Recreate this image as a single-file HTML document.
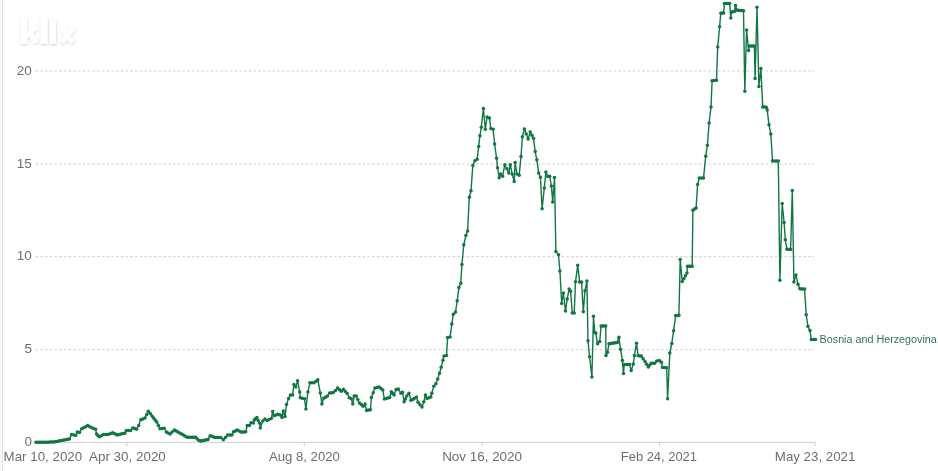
<!DOCTYPE html>
<html><head><meta charset="utf-8"><title>chart</title>
<style>
html,body{margin:0;padding:0;background:#fff;}
body{width:938px;height:471px;overflow:hidden;position:relative;font-family:"Liberation Sans",sans-serif;}
svg{position:absolute;left:0;top:0;}
.lb{position:absolute;left:0;top:0;width:2px;height:471px;background:#fafafa;}
.lb2{position:absolute;left:2px;top:0;width:1px;height:471px;background:#e1e1e1;}
text{font-family:"Liberation Sans",sans-serif;}
.ax{font-size:13px;fill:#6e6e6e;}
</style></head><body>
<div class="lb"></div><div class="lb2"></div>
<svg style="will-change:transform" width="938" height="471" viewBox="0 0 938 471">
<defs><filter id="ls" x="-20%" y="-20%" width="140%" height="150%"><feDropShadow dx="0.3" dy="0.9" stdDeviation="0.9" flood-color="#000" flood-opacity="0.2"/></filter></defs>
<g filter="url(#ls)" stroke="#fff" fill="none" stroke-linecap="butt">
<line x1="23.9" y1="17" x2="23.9" y2="44" stroke-width="6.4"/>
<line x1="25.5" y1="37" x2="35.6" y2="27.2" stroke-width="5.2"/>
<line x1="29.5" y1="33" x2="36.2" y2="43" stroke-width="5.2"/>
<line x1="44.1" y1="17" x2="44.1" y2="44" stroke-width="6.8"/>
<line x1="52.6" y1="20.5" x2="52.6" y2="44" stroke-width="6.8"/>
<line x1="61.6" y1="28.3" x2="72.9" y2="42.6" stroke-width="5.2"/>
<line x1="72.9" y1="28.3" x2="61.6" y2="42.6" stroke-width="5.2"/>
</g>
<g stroke="#cecece" stroke-width="1" stroke-dasharray="2.5,2.24" fill="none"><line x1="35.5" x2="814" y1="349.7" y2="349.7"/><line x1="35.5" x2="814" y1="256.7" y2="256.7"/><line x1="35.5" x2="814" y1="164.1" y2="164.1"/><line x1="35.5" x2="814" y1="71.0" y2="71.0"/></g>
<line x1="36" x2="815.5" y1="442.3" y2="442.3" stroke="#cfcfcf" stroke-width="1"/>
<g stroke="#cfcfcf" stroke-width="1"><line x1="126.9" x2="126.9" y1="442.3" y2="446.3"/><line x1="304.3" x2="304.3" y1="442.3" y2="446.3"/><line x1="482.1" x2="482.1" y1="442.3" y2="446.3"/><line x1="659.5" x2="659.5" y1="442.3" y2="446.3"/><line x1="815.1" x2="815.1" y1="442.3" y2="446.3"/></g>
<g class="ax" text-anchor="end" style="font-size:13.5px">
<text x="31.9" y="446.0">0</text>
<text x="31.9" y="353.4">5</text>
<text x="31.9" y="260.4">10</text>
<text x="31.9" y="167.79999999999998">15</text>
<text x="31.9" y="74.7">20</text>
</g>
<g class="ax">
<text x="3.6" y="460.5" textLength="78.6" lengthAdjust="spacingAndGlyphs">Mar 10, 2020</text>
<text x="89" y="460.5" textLength="76.8" lengthAdjust="spacingAndGlyphs">Apr 30, 2020</text>
<text x="268.9" y="460.5" textLength="71" lengthAdjust="spacingAndGlyphs">Aug 8, 2020</text>
<text x="442.2" y="460.5" textLength="79.8" lengthAdjust="spacingAndGlyphs">Nov 16, 2020</text>
<text x="620.8" y="460.5" textLength="76.2" lengthAdjust="spacingAndGlyphs">Feb 24, 2021</text>
<text x="774.8" y="460.5" textLength="80.6" lengthAdjust="spacingAndGlyphs">May 23, 2021</text>
</g>
<polyline points="36.0,442.3 53.5,442.1 62.0,440.5 69.4,438.9 71.6,434.6 75.8,435.2 77.4,432.0 79.5,432.5 81.7,428.8 87.6,425.6 91.3,427.5 95.6,429.3 96.6,434.1 99.3,436.8 103.6,434.6 108.9,434.3 112.6,432.8 117.4,435.0 121.0,434.0 124.8,433.3 126.4,430.4 130.7,430.4 132.8,427.9 136.5,429.3 138.7,425.6 140.8,419.7 145.0,418.1 148.3,411.2 152.0,416.0 156.8,421.9 160.0,428.8 164.2,428.3 166.4,432.0 170.1,434.1 174.4,429.9 179.7,433.0 187.2,437.3 195.7,437.3 198.9,440.5 201.6,441.0 208.0,439.4 210.1,435.7 215.3,437.6 220.7,437.6 223.3,439.8 227.6,435.0 231.9,435.0 233.5,431.8 237.2,430.0 240.9,432.1 245.7,431.8 247.3,425.4 249.4,425.4 251.0,422.7 253.2,422.9 254.2,420.0 256.9,417.6 259.6,423.3 260.3,428.0 262.8,421.1 264.9,419.0 267.0,420.6 271.3,418.5 272.7,411.5 274.0,415.8 277.7,414.2 280.9,415.3 282.0,417.4 283.3,411.0 285.0,416.6 286.5,404.4 288.6,398.5 290.4,395.1 292.6,395.1 293.9,384.4 295.8,387.1 297.6,380.7 299.7,391.9 300.3,397.7 304.5,398.8 305.9,408.9 307.9,391.9 309.9,382.8 314.1,382.8 317.8,379.8 320.3,392.9 321.9,404.1 323.7,398.3 327.4,396.1 329.6,392.9 333.3,392.6 337.6,388.1 341.3,391.3 343.4,389.2 347.2,393.5 349.3,397.7 351.3,398.8 352.8,404.1 354.2,396.1 356.2,396.1 359.4,403.0 363.2,406.2 365.1,404.1 366.6,410.5 370.4,409.7 371.4,397.5 373.2,392.8 374.9,388.1 379.1,386.9 382.8,390.1 384.4,399.1 389.7,397.5 391.3,391.7 394.0,394.9 396.1,389.5 398.3,389.0 400.9,393.3 402.5,392.2 404.1,401.8 406.8,395.9 408.9,393.3 411.0,400.2 414.2,398.6 416.4,397.0 418.0,402.3 422.0,407.1 423.8,401.8 425.4,394.9 427.0,398.6 430.8,397.0 431.8,393.3 433.8,386.3 435.9,383.7 437.7,378.9 439.5,373.3 441.2,367.2 442.9,360.2 444.0,356.0 446.5,355.6 447.6,337.5 450.1,337.1 451.8,324.1 453.3,314.2 455.5,312.0 457.2,300.8 458.9,287.4 460.8,283.2 461.9,264.5 463.8,244.7 465.9,235.4 467.6,231.1 469.3,197.2 471.0,190.8 472.8,165.6 474.9,160.8 477.1,159.2 478.7,146.4 479.9,135.7 481.3,127.3 483.4,108.5 485.3,129.3 487.1,117.0 489.4,118.0 490.8,128.4 493.1,129.2 494.6,144.0 496.6,158.3 497.5,167.7 499.2,177.8 500.5,174.1 502.6,176.2 504.8,164.7 506.9,168.8 508.8,173.0 510.3,164.7 512.2,174.1 514.2,181.6 515.1,162.4 517.0,174.1 519.2,175.2 521.0,156.5 522.4,136.7 524.4,128.9 528.1,139.0 530.2,132.0 533.5,138.3 535.2,151.6 536.8,159.7 538.7,173.0 540.4,177.3 542.1,208.7 544.3,188.0 545.9,172.1 547.8,176.6 549.7,176.3 551.4,186.1 552.7,202.0 554.5,177.5 555.9,251.4 558.5,254.8 559.9,270.9 561.7,303.5 563.4,293.0 565.5,311.0 567.2,299.0 569.1,289.1 570.6,291.3 572.3,313.0 574.2,313.0 575.5,281.8 577.7,265.3 579.6,281.9 581.6,281.9 583.3,311.7 585.0,290.7 586.9,281.1 588.0,340.7 589.6,356.7 591.9,376.9 593.5,316.3 594.7,332.5 595.8,332.9 597.5,343.8 599.7,341.6 601.1,325.9 605.7,325.9 606.0,355.6 607.5,352.2 609.0,343.8 617.3,342.6 618.9,337.2 620.5,349.2 622.4,360.4 623.5,373.5 624.2,364.6 629.6,364.6 631.2,370.5 633.3,364.1 634.4,355.6 636.5,343.3 638.1,355.6 641.3,356.1 645.0,361.4 648.3,367.0 651.3,363.2 654.6,363.3 656.8,360.9 659.3,360.6 661.4,362.3 662.5,367.5 666.7,367.7 667.6,398.7 669.8,353.0 671.8,343.5 673.6,330.7 675.7,315.5 678.9,315.3 680.2,259.5 682.2,281.6 687.0,272.9 687.5,266.3 692.2,266.3 692.9,210.2 696.1,208.0 697.6,184.5 699.3,178.1 703.5,178.1 705.7,156.3 707.4,145.2 709.1,122.9 711.0,107.0 712.1,80.7 716.5,80.3 717.7,47.1 719.6,26.8 720.8,13.2 723.6,13.0 724.4,3.6 729.7,3.6 730.8,17.9 731.4,11.9 734.4,11.5 735.5,5.5 736.7,10.1 743.5,10.7 744.8,91.2 746.6,30.1 748.6,50.5 749.3,46.1 754.4,46.1 755.1,78.4 757.0,7.2 758.9,86.4 760.9,68.4 762.7,106.9 766.3,107.2 767.2,109.9 769.0,124.8 770.8,134.0 772.5,160.9 778.3,160.9 779.9,280.2 782.2,203.5 784.1,222.5 785.3,239.8 786.9,249.2 790.6,249.4 792.3,190.5 793.9,281.9 795.9,275.1 798.0,284.2 799.9,288.8 804.6,289.0 806.2,314.8 807.9,326.2 810.0,330.6 811.3,339.4 815.5,339.4" fill="none" stroke="#127643" stroke-width="1.4" stroke-linejoin="round" stroke-linecap="round"/>
<g fill="#127643"><circle cx="36.0" cy="442.3" r="1.75"/><circle cx="37.8" cy="442.3" r="1.75"/><circle cx="39.5" cy="442.3" r="1.75"/><circle cx="41.2" cy="442.2" r="1.75"/><circle cx="43.0" cy="442.2" r="1.75"/><circle cx="44.8" cy="442.2" r="1.75"/><circle cx="46.5" cy="442.2" r="1.75"/><circle cx="48.2" cy="442.2" r="1.75"/><circle cx="50.0" cy="442.1" r="1.75"/><circle cx="51.8" cy="442.1" r="1.75"/><circle cx="53.5" cy="442.1" r="1.75"/><circle cx="55.2" cy="441.8" r="1.75"/><circle cx="56.9" cy="441.5" r="1.75"/><circle cx="58.6" cy="441.1" r="1.75"/><circle cx="60.3" cy="440.8" r="1.75"/><circle cx="62.0" cy="440.5" r="1.75"/><circle cx="63.9" cy="440.1" r="1.75"/><circle cx="65.7" cy="439.7" r="1.75"/><circle cx="67.6" cy="439.3" r="1.75"/><circle cx="69.4" cy="438.9" r="1.75"/><circle cx="71.6" cy="434.6" r="1.75"/><circle cx="73.7" cy="434.9" r="1.75"/><circle cx="75.8" cy="435.2" r="1.75"/><circle cx="77.4" cy="432.0" r="1.75"/><circle cx="79.5" cy="432.5" r="1.75"/><circle cx="81.7" cy="428.8" r="1.75"/><circle cx="83.7" cy="427.7" r="1.75"/><circle cx="85.6" cy="426.7" r="1.75"/><circle cx="87.6" cy="425.6" r="1.75"/><circle cx="89.4" cy="426.6" r="1.75"/><circle cx="91.3" cy="427.5" r="1.75"/><circle cx="93.4" cy="428.4" r="1.75"/><circle cx="95.6" cy="429.3" r="1.75"/><circle cx="96.6" cy="434.1" r="1.75"/><circle cx="97.9" cy="435.5" r="1.75"/><circle cx="99.3" cy="436.8" r="1.75"/><circle cx="101.4" cy="435.7" r="1.75"/><circle cx="103.6" cy="434.6" r="1.75"/><circle cx="105.4" cy="434.5" r="1.75"/><circle cx="107.1" cy="434.4" r="1.75"/><circle cx="108.9" cy="434.3" r="1.75"/><circle cx="110.8" cy="433.6" r="1.75"/><circle cx="112.6" cy="432.8" r="1.75"/><circle cx="114.2" cy="433.5" r="1.75"/><circle cx="115.8" cy="434.3" r="1.75"/><circle cx="117.4" cy="435.0" r="1.75"/><circle cx="119.2" cy="434.5" r="1.75"/><circle cx="121.0" cy="434.0" r="1.75"/><circle cx="122.9" cy="433.6" r="1.75"/><circle cx="124.8" cy="433.3" r="1.75"/><circle cx="126.4" cy="430.4" r="1.75"/><circle cx="128.6" cy="430.4" r="1.75"/><circle cx="130.7" cy="430.4" r="1.75"/><circle cx="132.8" cy="427.9" r="1.75"/><circle cx="134.7" cy="428.6" r="1.75"/><circle cx="136.5" cy="429.3" r="1.75"/><circle cx="138.7" cy="425.6" r="1.75"/><circle cx="140.8" cy="419.7" r="1.75"/><circle cx="142.9" cy="418.9" r="1.75"/><circle cx="145.0" cy="418.1" r="1.75"/><circle cx="146.7" cy="414.6" r="1.75"/><circle cx="148.3" cy="411.2" r="1.75"/><circle cx="150.2" cy="413.6" r="1.75"/><circle cx="152.0" cy="416.0" r="1.75"/><circle cx="153.6" cy="418.0" r="1.75"/><circle cx="155.2" cy="419.9" r="1.75"/><circle cx="156.8" cy="421.9" r="1.75"/><circle cx="158.4" cy="425.4" r="1.75"/><circle cx="160.0" cy="428.8" r="1.75"/><circle cx="162.1" cy="428.6" r="1.75"/><circle cx="164.2" cy="428.3" r="1.75"/><circle cx="166.4" cy="432.0" r="1.75"/><circle cx="168.2" cy="433.1" r="1.75"/><circle cx="170.1" cy="434.1" r="1.75"/><circle cx="172.2" cy="432.0" r="1.75"/><circle cx="174.4" cy="429.9" r="1.75"/><circle cx="176.2" cy="430.9" r="1.75"/><circle cx="177.9" cy="432.0" r="1.75"/><circle cx="179.7" cy="433.0" r="1.75"/><circle cx="181.6" cy="434.1" r="1.75"/><circle cx="183.4" cy="435.1" r="1.75"/><circle cx="185.3" cy="436.2" r="1.75"/><circle cx="187.2" cy="437.3" r="1.75"/><circle cx="188.9" cy="437.3" r="1.75"/><circle cx="190.6" cy="437.3" r="1.75"/><circle cx="192.3" cy="437.3" r="1.75"/><circle cx="194.0" cy="437.3" r="1.75"/><circle cx="195.7" cy="437.3" r="1.75"/><circle cx="197.3" cy="438.9" r="1.75"/><circle cx="198.9" cy="440.5" r="1.75"/><circle cx="200.2" cy="440.8" r="1.75"/><circle cx="201.6" cy="441.0" r="1.75"/><circle cx="203.2" cy="440.6" r="1.75"/><circle cx="204.8" cy="440.2" r="1.75"/><circle cx="206.4" cy="439.8" r="1.75"/><circle cx="208.0" cy="439.4" r="1.75"/><circle cx="210.1" cy="435.7" r="1.75"/><circle cx="211.8" cy="436.3" r="1.75"/><circle cx="213.6" cy="437.0" r="1.75"/><circle cx="215.3" cy="437.6" r="1.75"/><circle cx="217.1" cy="437.6" r="1.75"/><circle cx="218.9" cy="437.6" r="1.75"/><circle cx="220.7" cy="437.6" r="1.75"/><circle cx="223.3" cy="439.8" r="1.75"/><circle cx="225.4" cy="437.4" r="1.75"/><circle cx="227.6" cy="435.0" r="1.75"/><circle cx="229.8" cy="435.0" r="1.75"/><circle cx="231.9" cy="435.0" r="1.75"/><circle cx="233.5" cy="431.8" r="1.75"/><circle cx="235.3" cy="430.9" r="1.75"/><circle cx="237.2" cy="430.0" r="1.75"/><circle cx="239.1" cy="431.1" r="1.75"/><circle cx="240.9" cy="432.1" r="1.75"/><circle cx="242.5" cy="432.0" r="1.75"/><circle cx="244.1" cy="431.9" r="1.75"/><circle cx="245.7" cy="431.8" r="1.75"/><circle cx="247.3" cy="425.4" r="1.75"/><circle cx="249.4" cy="425.4" r="1.75"/><circle cx="251.0" cy="422.7" r="1.75"/><circle cx="253.2" cy="422.9" r="1.75"/><circle cx="254.2" cy="420.0" r="1.75"/><circle cx="255.5" cy="418.8" r="1.75"/><circle cx="256.9" cy="417.6" r="1.75"/><circle cx="258.2" cy="420.5" r="1.75"/><circle cx="259.6" cy="423.3" r="1.75"/><circle cx="260.3" cy="428.0" r="1.75"/><circle cx="262.8" cy="421.1" r="1.75"/><circle cx="264.9" cy="419.0" r="1.75"/><circle cx="267.0" cy="420.6" r="1.75"/><circle cx="269.1" cy="419.6" r="1.75"/><circle cx="271.3" cy="418.5" r="1.75"/><circle cx="272.7" cy="411.5" r="1.75"/><circle cx="274.0" cy="415.8" r="1.75"/><circle cx="275.9" cy="415.0" r="1.75"/><circle cx="277.7" cy="414.2" r="1.75"/><circle cx="279.3" cy="414.8" r="1.75"/><circle cx="280.9" cy="415.3" r="1.75"/><circle cx="282.0" cy="417.4" r="1.75"/><circle cx="283.3" cy="411.0" r="1.75"/><circle cx="285.0" cy="416.6" r="1.75"/><circle cx="286.5" cy="404.4" r="1.75"/><circle cx="288.6" cy="398.5" r="1.75"/><circle cx="290.4" cy="395.1" r="1.75"/><circle cx="292.6" cy="395.1" r="1.75"/><circle cx="293.9" cy="384.4" r="1.75"/><circle cx="295.8" cy="387.1" r="1.75"/><circle cx="297.6" cy="380.7" r="1.75"/><circle cx="299.7" cy="391.9" r="1.75"/><circle cx="300.3" cy="397.7" r="1.75"/><circle cx="302.4" cy="398.2" r="1.75"/><circle cx="304.5" cy="398.8" r="1.75"/><circle cx="305.9" cy="408.9" r="1.75"/><circle cx="307.9" cy="391.9" r="1.75"/><circle cx="309.9" cy="382.8" r="1.75"/><circle cx="312.0" cy="382.8" r="1.75"/><circle cx="314.1" cy="382.8" r="1.75"/><circle cx="316.0" cy="381.3" r="1.75"/><circle cx="317.8" cy="379.8" r="1.75"/><circle cx="320.3" cy="392.9" r="1.75"/><circle cx="321.9" cy="404.1" r="1.75"/><circle cx="323.7" cy="398.3" r="1.75"/><circle cx="325.5" cy="397.2" r="1.75"/><circle cx="327.4" cy="396.1" r="1.75"/><circle cx="329.6" cy="392.9" r="1.75"/><circle cx="331.5" cy="392.8" r="1.75"/><circle cx="333.3" cy="392.6" r="1.75"/><circle cx="335.5" cy="390.4" r="1.75"/><circle cx="337.6" cy="388.1" r="1.75"/><circle cx="339.5" cy="389.7" r="1.75"/><circle cx="341.3" cy="391.3" r="1.75"/><circle cx="343.4" cy="389.2" r="1.75"/><circle cx="345.3" cy="391.4" r="1.75"/><circle cx="347.2" cy="393.5" r="1.75"/><circle cx="349.3" cy="397.7" r="1.75"/><circle cx="351.3" cy="398.8" r="1.75"/><circle cx="352.8" cy="404.1" r="1.75"/><circle cx="354.2" cy="396.1" r="1.75"/><circle cx="356.2" cy="396.1" r="1.75"/><circle cx="357.8" cy="399.6" r="1.75"/><circle cx="359.4" cy="403.0" r="1.75"/><circle cx="361.3" cy="404.6" r="1.75"/><circle cx="363.2" cy="406.2" r="1.75"/><circle cx="365.1" cy="404.1" r="1.75"/><circle cx="366.6" cy="410.5" r="1.75"/><circle cx="368.5" cy="410.1" r="1.75"/><circle cx="370.4" cy="409.7" r="1.75"/><circle cx="371.4" cy="397.5" r="1.75"/><circle cx="373.2" cy="392.8" r="1.75"/><circle cx="374.9" cy="388.1" r="1.75"/><circle cx="377.0" cy="387.5" r="1.75"/><circle cx="379.1" cy="386.9" r="1.75"/><circle cx="381.0" cy="388.5" r="1.75"/><circle cx="382.8" cy="390.1" r="1.75"/><circle cx="384.4" cy="399.1" r="1.75"/><circle cx="386.2" cy="398.6" r="1.75"/><circle cx="387.9" cy="398.0" r="1.75"/><circle cx="389.7" cy="397.5" r="1.75"/><circle cx="391.3" cy="391.7" r="1.75"/><circle cx="392.6" cy="393.3" r="1.75"/><circle cx="394.0" cy="394.9" r="1.75"/><circle cx="396.1" cy="389.5" r="1.75"/><circle cx="398.3" cy="389.0" r="1.75"/><circle cx="400.9" cy="393.3" r="1.75"/><circle cx="402.5" cy="392.2" r="1.75"/><circle cx="404.1" cy="401.8" r="1.75"/><circle cx="405.5" cy="398.9" r="1.75"/><circle cx="406.8" cy="395.9" r="1.75"/><circle cx="408.9" cy="393.3" r="1.75"/><circle cx="411.0" cy="400.2" r="1.75"/><circle cx="412.6" cy="399.4" r="1.75"/><circle cx="414.2" cy="398.6" r="1.75"/><circle cx="416.4" cy="397.0" r="1.75"/><circle cx="418.0" cy="402.3" r="1.75"/><circle cx="420.0" cy="404.7" r="1.75"/><circle cx="422.0" cy="407.1" r="1.75"/><circle cx="423.8" cy="401.8" r="1.75"/><circle cx="425.4" cy="394.9" r="1.75"/><circle cx="427.0" cy="398.6" r="1.75"/><circle cx="428.9" cy="397.8" r="1.75"/><circle cx="430.8" cy="397.0" r="1.75"/><circle cx="431.8" cy="393.3" r="1.75"/><circle cx="433.8" cy="386.3" r="1.75"/><circle cx="435.9" cy="383.7" r="1.75"/><circle cx="437.7" cy="378.9" r="1.75"/><circle cx="439.5" cy="373.3" r="1.75"/><circle cx="441.2" cy="367.2" r="1.75"/><circle cx="442.9" cy="360.2" r="1.75"/><circle cx="444.0" cy="356.0" r="1.75"/><circle cx="446.5" cy="355.6" r="1.75"/><circle cx="447.6" cy="337.5" r="1.75"/><circle cx="450.1" cy="337.1" r="1.75"/><circle cx="451.8" cy="324.1" r="1.75"/><circle cx="453.3" cy="314.2" r="1.75"/><circle cx="455.5" cy="312.0" r="1.75"/><circle cx="457.2" cy="300.8" r="1.75"/><circle cx="458.9" cy="287.4" r="1.75"/><circle cx="460.8" cy="283.2" r="1.75"/><circle cx="461.9" cy="264.5" r="1.75"/><circle cx="463.8" cy="244.7" r="1.75"/><circle cx="465.9" cy="235.4" r="1.75"/><circle cx="467.6" cy="231.1" r="1.75"/><circle cx="469.3" cy="197.2" r="1.75"/><circle cx="471.0" cy="190.8" r="1.75"/><circle cx="472.8" cy="165.6" r="1.75"/><circle cx="474.9" cy="160.8" r="1.75"/><circle cx="477.1" cy="159.2" r="1.75"/><circle cx="478.7" cy="146.4" r="1.75"/><circle cx="479.9" cy="135.7" r="1.75"/><circle cx="481.3" cy="127.3" r="1.75"/><circle cx="483.4" cy="108.5" r="1.75"/><circle cx="485.3" cy="129.3" r="1.75"/><circle cx="487.1" cy="117.0" r="1.75"/><circle cx="489.4" cy="118.0" r="1.75"/><circle cx="490.8" cy="128.4" r="1.75"/><circle cx="493.1" cy="129.2" r="1.75"/><circle cx="494.6" cy="144.0" r="1.75"/><circle cx="496.6" cy="158.3" r="1.75"/><circle cx="497.5" cy="167.7" r="1.75"/><circle cx="499.2" cy="177.8" r="1.75"/><circle cx="500.5" cy="174.1" r="1.75"/><circle cx="502.6" cy="176.2" r="1.75"/><circle cx="504.8" cy="164.7" r="1.75"/><circle cx="506.9" cy="168.8" r="1.75"/><circle cx="508.8" cy="173.0" r="1.75"/><circle cx="510.3" cy="164.7" r="1.75"/><circle cx="512.2" cy="174.1" r="1.75"/><circle cx="514.2" cy="181.6" r="1.75"/><circle cx="515.1" cy="162.4" r="1.75"/><circle cx="517.0" cy="174.1" r="1.75"/><circle cx="519.2" cy="175.2" r="1.75"/><circle cx="521.0" cy="156.5" r="1.75"/><circle cx="522.4" cy="136.7" r="1.75"/><circle cx="524.4" cy="128.9" r="1.75"/><circle cx="526.2" cy="133.9" r="1.75"/><circle cx="528.1" cy="139.0" r="1.75"/><circle cx="530.2" cy="132.0" r="1.75"/><circle cx="531.9" cy="135.2" r="1.75"/><circle cx="533.5" cy="138.3" r="1.75"/><circle cx="535.2" cy="151.6" r="1.75"/><circle cx="536.8" cy="159.7" r="1.75"/><circle cx="538.7" cy="173.0" r="1.75"/><circle cx="540.4" cy="177.3" r="1.75"/><circle cx="542.1" cy="208.7" r="1.75"/><circle cx="544.3" cy="188.0" r="1.75"/><circle cx="545.9" cy="172.1" r="1.75"/><circle cx="547.8" cy="176.6" r="1.75"/><circle cx="549.7" cy="176.3" r="1.75"/><circle cx="551.4" cy="186.1" r="1.75"/><circle cx="552.7" cy="202.0" r="1.75"/><circle cx="554.5" cy="177.5" r="1.75"/><circle cx="555.9" cy="251.4" r="1.75"/><circle cx="558.5" cy="254.8" r="1.75"/><circle cx="559.9" cy="270.9" r="1.75"/><circle cx="561.7" cy="303.5" r="1.75"/><circle cx="563.4" cy="293.0" r="1.75"/><circle cx="565.5" cy="311.0" r="1.75"/><circle cx="567.2" cy="299.0" r="1.75"/><circle cx="569.1" cy="289.1" r="1.75"/><circle cx="570.6" cy="291.3" r="1.75"/><circle cx="572.3" cy="313.0" r="1.75"/><circle cx="574.2" cy="313.0" r="1.75"/><circle cx="575.5" cy="281.8" r="1.75"/><circle cx="577.7" cy="265.3" r="1.75"/><circle cx="579.6" cy="281.9" r="1.75"/><circle cx="581.6" cy="281.9" r="1.75"/><circle cx="583.3" cy="311.7" r="1.75"/><circle cx="585.0" cy="290.7" r="1.75"/><circle cx="586.9" cy="281.1" r="1.75"/><circle cx="588.0" cy="340.7" r="1.75"/><circle cx="589.6" cy="356.7" r="1.75"/><circle cx="591.9" cy="376.9" r="1.75"/><circle cx="593.5" cy="316.3" r="1.75"/><circle cx="594.7" cy="332.5" r="1.75"/><circle cx="595.8" cy="332.9" r="1.75"/><circle cx="597.5" cy="343.8" r="1.75"/><circle cx="599.7" cy="341.6" r="1.75"/><circle cx="601.1" cy="325.9" r="1.75"/><circle cx="602.6" cy="325.9" r="1.75"/><circle cx="604.2" cy="325.9" r="1.75"/><circle cx="605.7" cy="325.9" r="1.75"/><circle cx="606.0" cy="355.6" r="1.75"/><circle cx="607.5" cy="352.2" r="1.75"/><circle cx="609.0" cy="343.8" r="1.75"/><circle cx="610.7" cy="343.6" r="1.75"/><circle cx="612.3" cy="343.3" r="1.75"/><circle cx="614.0" cy="343.1" r="1.75"/><circle cx="615.6" cy="342.8" r="1.75"/><circle cx="617.3" cy="342.6" r="1.75"/><circle cx="618.9" cy="337.2" r="1.75"/><circle cx="620.5" cy="349.2" r="1.75"/><circle cx="622.4" cy="360.4" r="1.75"/><circle cx="623.5" cy="373.5" r="1.75"/><circle cx="624.2" cy="364.6" r="1.75"/><circle cx="626.0" cy="364.6" r="1.75"/><circle cx="627.8" cy="364.6" r="1.75"/><circle cx="629.6" cy="364.6" r="1.75"/><circle cx="631.2" cy="370.5" r="1.75"/><circle cx="633.3" cy="364.1" r="1.75"/><circle cx="634.4" cy="355.6" r="1.75"/><circle cx="636.5" cy="343.3" r="1.75"/><circle cx="638.1" cy="355.6" r="1.75"/><circle cx="639.7" cy="355.9" r="1.75"/><circle cx="641.3" cy="356.1" r="1.75"/><circle cx="643.1" cy="358.8" r="1.75"/><circle cx="645.0" cy="361.4" r="1.75"/><circle cx="646.6" cy="364.2" r="1.75"/><circle cx="648.3" cy="367.0" r="1.75"/><circle cx="649.8" cy="365.1" r="1.75"/><circle cx="651.3" cy="363.2" r="1.75"/><circle cx="653.0" cy="363.2" r="1.75"/><circle cx="654.6" cy="363.3" r="1.75"/><circle cx="656.8" cy="360.9" r="1.75"/><circle cx="659.3" cy="360.6" r="1.75"/><circle cx="661.4" cy="362.3" r="1.75"/><circle cx="662.5" cy="367.5" r="1.75"/><circle cx="664.6" cy="367.6" r="1.75"/><circle cx="666.7" cy="367.7" r="1.75"/><circle cx="667.6" cy="398.7" r="1.75"/><circle cx="669.8" cy="353.0" r="1.75"/><circle cx="671.8" cy="343.5" r="1.75"/><circle cx="673.6" cy="330.7" r="1.75"/><circle cx="675.7" cy="315.5" r="1.75"/><circle cx="677.3" cy="315.4" r="1.75"/><circle cx="678.9" cy="315.3" r="1.75"/><circle cx="680.2" cy="259.5" r="1.75"/><circle cx="682.2" cy="281.6" r="1.75"/><circle cx="683.8" cy="278.7" r="1.75"/><circle cx="685.4" cy="275.8" r="1.75"/><circle cx="687.0" cy="272.9" r="1.75"/><circle cx="687.5" cy="266.3" r="1.75"/><circle cx="689.1" cy="266.3" r="1.75"/><circle cx="690.6" cy="266.3" r="1.75"/><circle cx="692.2" cy="266.3" r="1.75"/><circle cx="692.9" cy="210.2" r="1.75"/><circle cx="694.5" cy="209.1" r="1.75"/><circle cx="696.1" cy="208.0" r="1.75"/><circle cx="697.6" cy="184.5" r="1.75"/><circle cx="699.3" cy="178.1" r="1.75"/><circle cx="701.4" cy="178.1" r="1.75"/><circle cx="703.5" cy="178.1" r="1.75"/><circle cx="705.7" cy="156.3" r="1.75"/><circle cx="707.4" cy="145.2" r="1.75"/><circle cx="709.1" cy="122.9" r="1.75"/><circle cx="711.0" cy="107.0" r="1.75"/><circle cx="712.1" cy="80.7" r="1.75"/><circle cx="714.3" cy="80.5" r="1.75"/><circle cx="716.5" cy="80.3" r="1.75"/><circle cx="717.7" cy="47.1" r="1.75"/><circle cx="719.6" cy="26.8" r="1.75"/><circle cx="720.8" cy="13.2" r="1.75"/><circle cx="722.2" cy="13.1" r="1.75"/><circle cx="723.6" cy="13.0" r="1.75"/><circle cx="724.4" cy="3.6" r="1.75"/><circle cx="726.2" cy="3.6" r="1.75"/><circle cx="727.9" cy="3.6" r="1.75"/><circle cx="729.7" cy="3.6" r="1.75"/><circle cx="730.8" cy="17.9" r="1.75"/><circle cx="731.4" cy="11.9" r="1.75"/><circle cx="732.9" cy="11.7" r="1.75"/><circle cx="734.4" cy="11.5" r="1.75"/><circle cx="735.5" cy="5.5" r="1.75"/><circle cx="736.7" cy="10.1" r="1.75"/><circle cx="738.4" cy="10.2" r="1.75"/><circle cx="740.1" cy="10.4" r="1.75"/><circle cx="741.8" cy="10.5" r="1.75"/><circle cx="743.5" cy="10.7" r="1.75"/><circle cx="744.8" cy="91.2" r="1.75"/><circle cx="746.6" cy="30.1" r="1.75"/><circle cx="748.6" cy="50.5" r="1.75"/><circle cx="749.3" cy="46.1" r="1.75"/><circle cx="751.0" cy="46.1" r="1.75"/><circle cx="752.7" cy="46.1" r="1.75"/><circle cx="754.4" cy="46.1" r="1.75"/><circle cx="755.1" cy="78.4" r="1.75"/><circle cx="757.0" cy="7.2" r="1.75"/><circle cx="758.9" cy="86.4" r="1.75"/><circle cx="760.9" cy="68.4" r="1.75"/><circle cx="762.7" cy="106.9" r="1.75"/><circle cx="764.5" cy="107.1" r="1.75"/><circle cx="766.3" cy="107.2" r="1.75"/><circle cx="767.2" cy="109.9" r="1.75"/><circle cx="769.0" cy="124.8" r="1.75"/><circle cx="770.8" cy="134.0" r="1.75"/><circle cx="772.5" cy="160.9" r="1.75"/><circle cx="774.4" cy="160.9" r="1.75"/><circle cx="776.4" cy="160.9" r="1.75"/><circle cx="778.3" cy="160.9" r="1.75"/><circle cx="779.9" cy="280.2" r="1.75"/><circle cx="782.2" cy="203.5" r="1.75"/><circle cx="784.1" cy="222.5" r="1.75"/><circle cx="785.3" cy="239.8" r="1.75"/><circle cx="786.9" cy="249.2" r="1.75"/><circle cx="788.8" cy="249.3" r="1.75"/><circle cx="790.6" cy="249.4" r="1.75"/><circle cx="792.3" cy="190.5" r="1.75"/><circle cx="793.9" cy="281.9" r="1.75"/><circle cx="795.9" cy="275.1" r="1.75"/><circle cx="798.0" cy="284.2" r="1.75"/><circle cx="799.9" cy="288.8" r="1.75"/><circle cx="801.5" cy="288.9" r="1.75"/><circle cx="803.0" cy="288.9" r="1.75"/><circle cx="804.6" cy="289.0" r="1.75"/><circle cx="806.2" cy="314.8" r="1.75"/><circle cx="807.9" cy="326.2" r="1.75"/><circle cx="810.0" cy="330.6" r="1.75"/><circle cx="811.3" cy="339.4" r="1.75"/><circle cx="813.4" cy="339.4" r="1.75"/><circle cx="815.5" cy="339.4" r="1.75"/></g>
<text x="819.6" y="343.2" font-size="10" fill="#2a7753" textLength="117.2" lengthAdjust="spacingAndGlyphs">Bosnia and Herzegovina</text>
</svg>
</body></html>
